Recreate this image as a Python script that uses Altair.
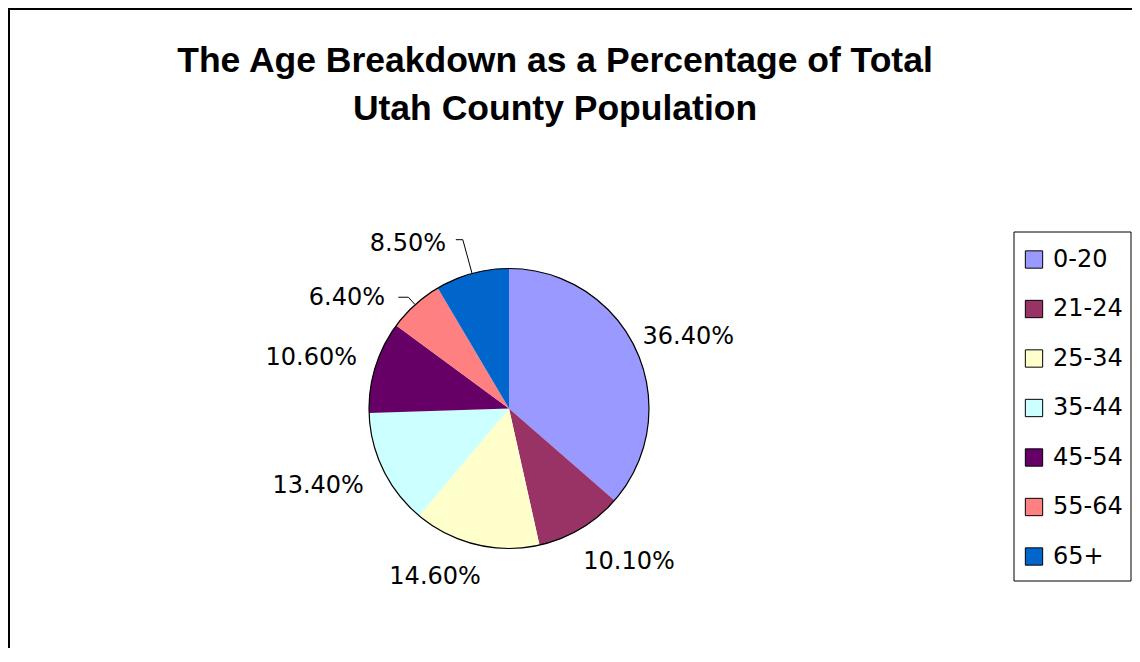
import math
import altair as alt
import pandas as pd

# ---- data ----
categories = ["0-20", "21-24", "25-34", "35-44", "45-54", "55-64", "65+"]
shares = [36.4, 10.1, 14.6, 13.4, 10.6, 6.4, 8.5]
title_lines = ["The Age Breakdown as a Percentage of Total", "Utah County Population"]

# ---- styles / layout ----
colors = ["#9999FF", "#993366", "#FFFFCC", "#CCFFFF", "#660066", "#FF8080", "#0066CC"]
W, H = 1124, 640
CX, CY, R = 501, 400.5, 140
FONT = "DejaVu Sans"
# label placement: distance from centre (px), angular nudge from slice middle (deg)
label_nudge = {
    "0-20": (193, 2.7), "21-24": (195, -7.2), "25-34": (184, 10.0),
    "35-44": (206, 3.8), "45-54": (204, -3.0), "55-64": (196, -13.7),
    "65+": (193, -16.3),
}
# leader lines: elbow distance from centre (px), horizontal run (px)
leaders = {"55-64": (150, 10), "65+": (175, 7)}

df = pd.DataFrame({"category": categories, "share": shares,
                   "idx": list(range(len(categories)))})

theta_scale = alt.Scale(domain=[0, 100], range=[0, 2 * math.pi])

base = (
    alt.Chart(df)
    .transform_window(end="sum(share)", sort=[alt.SortField("idx", order="ascending")])
    .transform_calculate(
        start="datum.end - datum.share",
        mid="datum.end - datum.share / 2",
        label="format(datum.share, '.2f') + '%'",
    )
)

color_scale = alt.Scale(domain=categories, range=colors)

slices = base.mark_arc(outerRadius=R).encode(
    theta=alt.Theta("start:Q", scale=theta_scale),
    theta2="end:Q",
    color=alt.Color(
        "category:N",
        scale=color_scale,
        legend=alt.Legend(
            title=None,
            orient="none",
            direction="vertical",
            legendX=1014,
            legendY=239.5,
            padding=0,
            symbolType="square",
            symbolSize=300,
            symbolStrokeColor="black",
            symbolStrokeWidth=1,
            symbolOpacity=1,
            labelFont=FONT,
            labelFontSize=24,
            labelColor="black",
            labelOffset=7,
            labelLimit=200,
            rowPadding=25.5,
        ),
    ),
    x=alt.value(CX),
    y=alt.value(CY),
)

outline = (
    base.transform_aggregate(total="sum(share)")
    .mark_arc(outerRadius=R, fillOpacity=0, stroke="black", strokeWidth=1.2)
    .encode(theta=alt.Theta("total:Q", scale=theta_scale), x=alt.value(CX), y=alt.value(CY))
)

label_layers = []
for cat in categories:
    r, off = label_nudge[cat]
    label_layers.append(
        base.transform_filter(alt.datum.category == cat)
        .mark_text(radius=r, thetaOffset=math.radians(off), font=FONT, fontSize=24,
                   color="black", align="center", baseline="middle")
        .encode(theta=alt.Theta("mid:Q", scale=theta_scale, stack=False),
                text="label:N", x=alt.value(CX), y=alt.value(CY))
    )

re_expr = " : ".join(f"datum.category == '{c}' ? {v[0]}" for c, v in leaders.items()) + " : 0"
hr_expr = " : ".join(f"datum.category == '{c}' ? {v[1]}" for c, v in leaders.items()) + " : 0"
leader_lines = (
    base.transform_filter(alt.FieldOneOfPredicate(field="category", oneOf=list(leaders)))
    .transform_calculate(pts="[0, 1, 2]")
    .transform_flatten(["pts"])
    .transform_calculate(
        a="datum.mid / 100 * 2 * PI",
        re=re_expr,
        hr=hr_expr,
    )
    .transform_calculate(
        lx=f"datum.pts == 0 ? {CX} + {R} * sin(datum.a) : "
           f"(datum.pts == 1 ? {CX} + datum.re * sin(datum.a) : {CX} + datum.re * sin(datum.a) - datum.hr)",
        ly=f"datum.pts == 0 ? {CY} - {R} * cos(datum.a) : {CY} - datum.re * cos(datum.a)",
    )
    .mark_line(color="black", strokeWidth=1)
    .encode(
        x=alt.X("lx:Q", scale=None, axis=None),
        y=alt.Y("ly:Q", scale=None, axis=None),
        detail="category:N",
        order="pts:Q",
    )
)

one = pd.DataFrame({"k": [0]})
title = alt.Chart(one).mark_text(
    text=title_lines, font="Liberation Sans", fontWeight="bold", fontSize=35.5,
    lineHeight=48, align="center", baseline="alphabetic", color="black",
).encode(x=alt.value(547), y=alt.value(64))

legend_box = alt.Chart(one).mark_rect(fillOpacity=0, stroke="black", strokeWidth=1).encode(
    x=alt.value(1006), x2=alt.value(1123), y=alt.value(224), y2=alt.value(573)
)

border_top = alt.Chart(one).mark_rule(color="black", strokeWidth=2).encode(
    x=alt.value(0), x2=alt.value(W), y=alt.value(1)
)
border_left = alt.Chart(one).mark_rule(color="black", strokeWidth=2).encode(
    x=alt.value(1), y=alt.value(0), y2=alt.value(H)
)

chart = (
    alt.layer(legend_box, slices, outline, leader_lines, *label_layers, title,
              border_top, border_left)
    .properties(width=W, height=H, autosize=alt.AutoSizeParams(type="none"), padding=0,
                background="white")
    .configure_view(strokeWidth=0)
)

chart.save("out.html", embed_options={"renderer": "svg", "actions": False})
